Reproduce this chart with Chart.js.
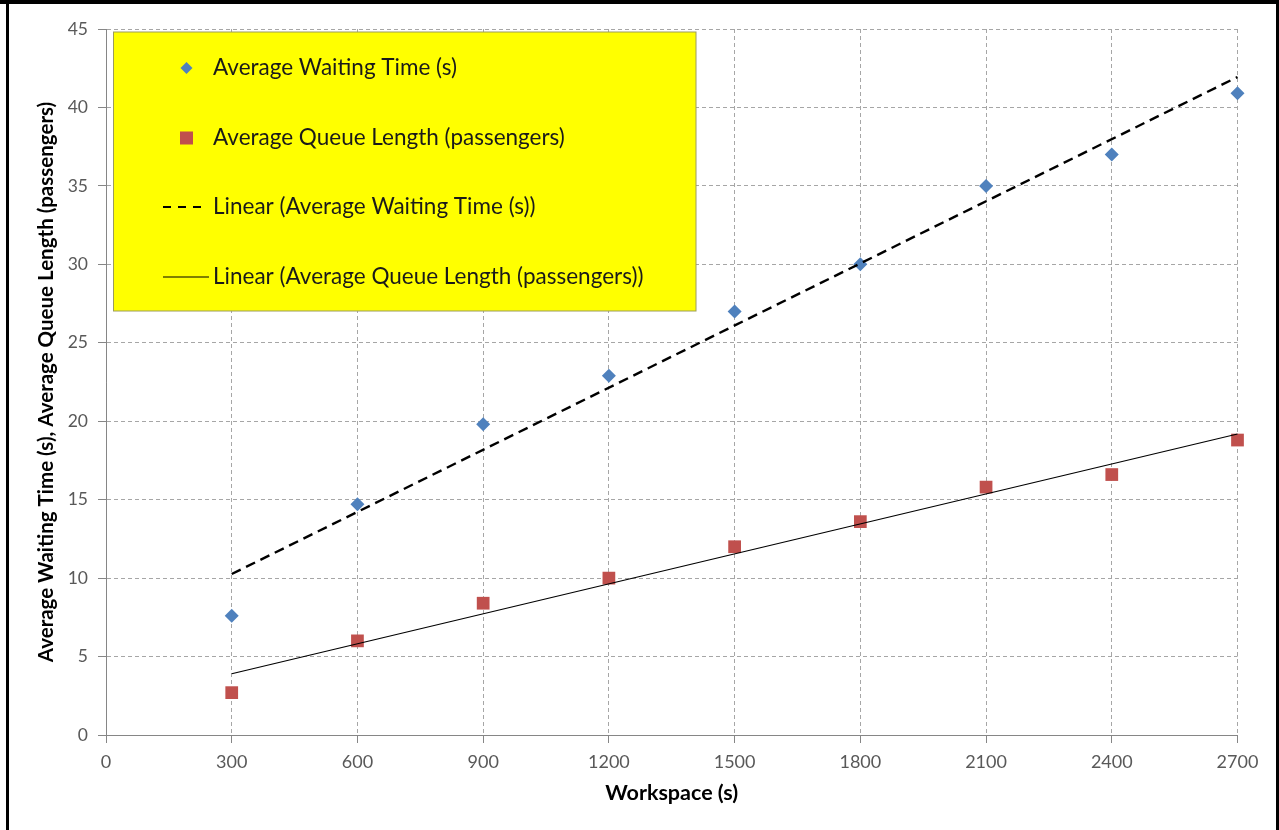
<!DOCTYPE html>
<html><head><meta charset="utf-8">
<script src="https://cdn.jsdelivr.net/npm/chart.js@4.4.1/dist/chart.umd.min.js"></script>
<style>html,body{margin:0;padding:0;background:#fff;} #wrap{position:relative;width:1279px;height:830px;} canvas{display:block;}</style>
</head><body><div id="wrap"><canvas id="c" width="1279" height="830"></canvas></div>
<script>
const workspace = [300, 600, 900, 1200, 1500, 1800, 2100, 2400, 2700];
const avgWaitingTime = [7.6, 14.7, 19.8, 22.9, 27.0, 30.0, 35.0, 37.0, 40.9];
const avgQueueLength = [2.7, 6.0, 8.4, 10.0, 12.0, 13.6, 15.8, 16.6, 18.8];
const xTickValues = [0, 300, 600, 900, 1200, 1500, 1800, 2100, 2400, 2700];
const yTickValues = [0, 5, 10, 15, 20, 25, 30, 35, 40, 45];
const seriesNames = ['Average Waiting Time (s)', 'Average Queue Length (passengers)',
  'Linear (Average Waiting Time (s))', 'Linear (Average Queue Length (passengers))'];
const xTitle = 'Workspace (s)';
const yTitle = 'Average Waiting Time (s), Average Queue Length (passengers)';

function linearTrend(xs, ys) {
  const n = xs.length;
  const mx = xs.reduce((a, b) => a + b, 0) / n;
  const my = ys.reduce((a, b) => a + b, 0) / n;
  let sxy = 0, sxx = 0;
  for (let i = 0; i < n; i++) { sxy += (xs[i] - mx) * (ys[i] - my); sxx += (xs[i] - mx) ** 2; }
  const b = sxy / sxx, a = my - b * mx;
  return [{x: xs[0], y: a + b * xs[0]}, {x: xs[n - 1], y: a + b * xs[n - 1]}];
}
const pts = (xs, ys) => xs.map((x, i) => ({x, y: ys[i]}));

const BLUE = '#4F81BD', RED = '#C0504D';
const FONT = 'Lato';

const legendPlugin = {
  id: 'boxLegend',
  afterDraw(chart) {
    const ctx = chart.ctx;
    ctx.save();
    const L = 113.5, T = 32, R = 696, B = 311;
    ctx.fillStyle = '#FFFF00';
    ctx.fillRect(L, T, R - L, B - T);
    ctx.strokeStyle = '#9c9c5c';
    ctx.lineWidth = 1;
    ctx.strokeRect(L, T, R - L, B - T);
    const rows = [68, 138, 207, 277];
    const mx = 186.5;
    ctx.fillStyle = BLUE;
    ctx.beginPath();
    ctx.moveTo(mx - 6, rows[0]); ctx.lineTo(mx, rows[0] - 6); ctx.lineTo(mx + 6, rows[0]); ctx.lineTo(mx, rows[0] + 6);
    ctx.closePath(); ctx.fill();
    ctx.fillStyle = RED;
    ctx.fillRect(mx - 6.5, rows[1] - 6.5, 13, 13);
    ctx.strokeStyle = '#000';
    ctx.lineWidth = 2.2;
    ctx.setLineDash([8, 7]);
    ctx.beginPath(); ctx.moveTo(163, rows[2]); ctx.lineTo(203, rows[2]); ctx.stroke();
    ctx.setLineDash([]);
    ctx.lineWidth = 1.2;
    ctx.beginPath(); ctx.moveTo(163, rows[3]); ctx.lineTo(209, rows[3]); ctx.stroke();
    ctx.fillStyle = '#1a1a1a';
    ctx.font = '22.5px ' + FONT;
    ctx.textBaseline = 'middle';
    ctx.textAlign = 'left';
    chart.data.datasets.forEach((ds, i) => ctx.fillText(ds.label, 213, rows[i]));
    ctx.fillStyle = '#000';
    ctx.fillRect(0, 0, 1279, 4);
    ctx.fillRect(6, 0, 3, 830);
    ctx.fillRect(1276, 0, 3, 830);
    ctx.restore();
  }
};

new Chart(document.getElementById('c'), {
  type: 'scatter',
  data: {
    datasets: [
      {label: seriesNames[0], data: pts(workspace, avgWaitingTime), pointStyle: 'rectRot', pointRadius: 7,
       backgroundColor: BLUE, borderColor: BLUE, borderWidth: 0, order: 2, clip: false},
      {label: seriesNames[1], data: pts(workspace, avgQueueLength), pointStyle: 'rect', pointRadius: 9,
       backgroundColor: RED, borderColor: RED, borderWidth: 0, order: 2, clip: false},
      {label: seriesNames[2], data: linearTrend(workspace, avgWaitingTime), showLine: true, pointRadius: 0,
       borderColor: '#000', borderWidth: 2.4, borderDash: [10, 6], order: 1, clip: false},
      {label: seriesNames[3], data: linearTrend(workspace, avgQueueLength), showLine: true, pointRadius: 0,
       borderColor: '#000', borderWidth: 1.2, order: 1, clip: false}
    ]
  },
  options: {
    responsive: false, animation: false, devicePixelRatio: 1,
    layout: {padding: {left: 30, top: 29, right: 41.5, bottom: 20}},
    plugins: {legend: {display: false}, tooltip: {enabled: false}},
    scales: {
      x: {
        type: 'linear', min: 0, max: 2700,
        afterBuildTicks: s => { s.ticks = xTickValues.map(v => ({value: v})); },
        afterFit: s => { s.height = 75; },
        ticks: {color: '#595959', font: {family: FONT, size: 18}, padding: 8, maxRotation: 0, autoSkip: false,
                callback: v => String(v)},
        grid: {color: '#a6a6a6', tickLength: 8, tickColor: '#868686', lineWidth: 1},
        border: {display: true, color: '#868686', width: 1, dash: [4, 3]},
        title: {display: true, text: xTitle, color: '#000', font: {family: FONT, size: 21.5, weight: 'bold'},
                padding: {top: 4, bottom: 4}}
      },
      y: {
        type: 'linear', min: 0, max: 45,
        afterBuildTicks: s => { s.ticks = yTickValues.map(v => ({value: v})); },
        afterFit: s => { s.width = 76; },
        ticks: {color: '#595959', font: {family: FONT, size: 17.5}, padding: 10, autoSkip: false,
                callback: v => String(v)},
        grid: {color: '#a6a6a6', tickLength: 8, tickColor: '#868686', lineWidth: 1},
        border: {display: true, color: '#868686', width: 1, dash: [4, 3]},
        title: {display: true, text: yTitle, color: '#000', font: {family: FONT, size: 20.5, weight: 'bold'},
                padding: {top: 4, bottom: 4}}
      }
    }
  },
  plugins: [legendPlugin]
});
</script></body></html>
